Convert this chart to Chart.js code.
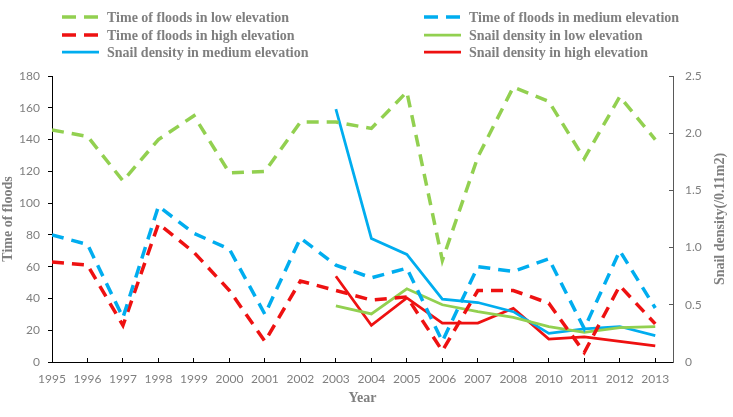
<!DOCTYPE html>
<html>
<head>
<meta charset="utf-8">
<script src="https://cdn.jsdelivr.net/npm/chart.js@4.4.1/dist/chart.umd.min.js"></script>
<style>
    html, body { margin: 0; padding: 0; background: #fff; }
</style>
</head>
<body>
<canvas id="myChart" width="733" height="417"></canvas>
<script>
const years = ["1995", "1996", "1997", "1998", "1999", "2000", "2001", "2002", "2003",
    "2004", "2005", "2006", "2007", "2008", "2010", "2011", "2012", "2013"];

// time of floods (left axis)
const floodsLow = [146, 142, 114, 140, 155, 119, 120, 151, 151, 147, 170, 64, 129, 173, 164, 128, 167, 140];
const floodsMedium = [80, 74, 28, 98, 81, 71, 30, 78, 61, 53, 59, 13, 60, 57, 65, 21, 70, 34];
const floodsHigh = [63, 61, 23, 87, 69, 45, 13, 51, 45, 39, 41, 7, 45, 45, 37, 6, 48, 24];

// snail density (right axis), no survey before 2003
const snailLow = [null, null, null, null, null, null, null, null, 0.49, 0.42, 0.64, 0.50, 0.44, 0.39, 0.31, 0.26, 0.30, 0.31];
const snailMedium = [null, null, null, null, null, null, null, null, 2.21, 1.08, 0.94, 0.55, 0.52, 0.44, 0.25, 0.29, 0.31, 0.23];
const snailHigh = [null, null, null, null, null, null, null, null, 0.75, 0.32, 0.56, 0.34, 0.34, 0.47, 0.20, 0.22, 0.18, 0.14];

const leftTicks = { min: 0, max: 180, step: 20 };
const rightTicks = { min: 0, max: 2.5, step: 0.5 };

const green = "#92d050";
const blue = "#00adef";
const red = "#ee1111";
const gray = "#7f7f7f";
const serif = "'Liberation Serif', 'DejaVu Serif', serif";

const toPoints = (arr) => arr.map((v, i) => ({ x: i, y: v }));

const dashed = (label, data, color) => ({
    label: label,
    data: toPoints(data),
    borderColor: color,
    borderWidth: 3.5,
    borderDash: [12, 8],
    yAxisID: "y",
});
const solid = (label, data, color) => ({
    label: label,
    data: toPoints(data),
    borderColor: color,
    borderWidth: 2.75,
    borderDash: [],
    yAxisID: "y2",
});

// legend in two columns like the original, plus the right axis title
const sideLegend = {
    id: "sideLegend",
    afterDraw(chart) {
        const ctx = chart.ctx;
        const cols = [62, 424];
        const rows = [17, 35, 52];
        ctx.save();
        chart.data.datasets.forEach((ds, i) => {
            const x = cols[i % 2];
            const y = rows[Math.floor(i / 2)];
            ctx.strokeStyle = ds.borderColor;
            ctx.lineWidth = ds.borderWidth;
            ctx.setLineDash(ds.borderDash.length ? [14, 8] : []);
            ctx.beginPath();
            ctx.moveTo(x, y);
            ctx.lineTo(x + 37, y);
            ctx.stroke();
            ctx.setLineDash([]);
            ctx.fillStyle = gray;
            ctx.font = "bold 14px " + serif;
            ctx.textAlign = "left";
            ctx.textBaseline = "middle";
            ctx.fillText(ds.label, x + 45, y + 1);
        });
        const area = chart.chartArea;
        ctx.translate(720, (area.top + area.bottom) / 2);
        ctx.rotate(-Math.PI / 2);
        ctx.textAlign = "center";
        ctx.textBaseline = "middle";
        ctx.fillText("Snail density(/0.11m2)", 0, 0);
        ctx.restore();
    },
};

const ctx = document.getElementById("myChart").getContext("2d");
const myChart = new Chart(ctx, {
    type: "line",
    data: {
        datasets: [
            dashed("Time of floods in low elevation", floodsLow, green),
            dashed("Time of floods in medium elevation", floodsMedium, blue),
            dashed("Time of floods in high elevation", floodsHigh, red),
            solid("Snail density in low elevation", snailLow, green),
            solid("Snail density in medium elevation", snailMedium, blue),
            solid("Snail density in high elevation", snailHigh, red),
        ],
    },
    options: {
        responsive: false,
        animation: false,
        devicePixelRatio: 1,
        layout: { padding: { top: 76, left: 0, right: 0, bottom: 0 } },
        elements: {
            point: { radius: 0 },
            line: { tension: 0, fill: false },
        },
        plugins: {
            legend: { display: false },
            tooltip: { enabled: false },
        },
        scales: {
            x: {
                type: "linear",
                min: 0,
                max: years.length - 0.5,
                afterBuildTicks: (scale) => {
                    scale.ticks = years.map((_, i) => ({ value: i }));
                },
                afterFit: (scale) => { scale.height = 55; },
                grid: { drawOnChartArea: false, tickLength: -4, color: "#000" },
                border: { color: "#000", width: 1 },
                ticks: {
                    autoSkip: false,
                    maxRotation: 0,
                    padding: 14,
                    color: gray,
                    font: { family: "Lato", size: 12 },
                    callback: (v) => years[v],
                },
                title: {
                    display: true,
                    text: "Year",
                    color: gray,
                    font: { family: serif, size: 14, weight: "bold" },
                    padding: { top: 0, bottom: 10 },
                },
            },
            y: {
                position: "left",
                min: leftTicks.min,
                max: leftTicks.max,
                afterFit: (scale) => { scale.width = 52; },
                grid: { drawOnChartArea: false, tickLength: 4, color: "#000" },
                border: { color: "#000", width: 1 },
                ticks: {
                    stepSize: leftTicks.step,
                    padding: 8,
                    color: gray,
                    font: { family: "Lato", size: 12 },
                },
                title: {
                    display: true,
                    text: "Time of floods",
                    color: gray,
                    font: { family: serif, size: 14, weight: "bold" },
                    padding: { top: 0, bottom: 0 },
                },
            },
            y2: {
                position: "right",
                min: rightTicks.min,
                max: rightTicks.max,
                afterFit: (scale) => { scale.width = 60; },
                grid: { drawOnChartArea: false, tickLength: -4, color: "#595959" },
                border: { color: "#595959", width: 1 },
                ticks: {
                    stepSize: rightTicks.step,
                    padding: 16,
                    color: gray,
                    font: { family: "Lato", size: 12 },
                },
            },
        },
    },
    plugins: [sideLegend],
});
</script>
</body>
</html>
